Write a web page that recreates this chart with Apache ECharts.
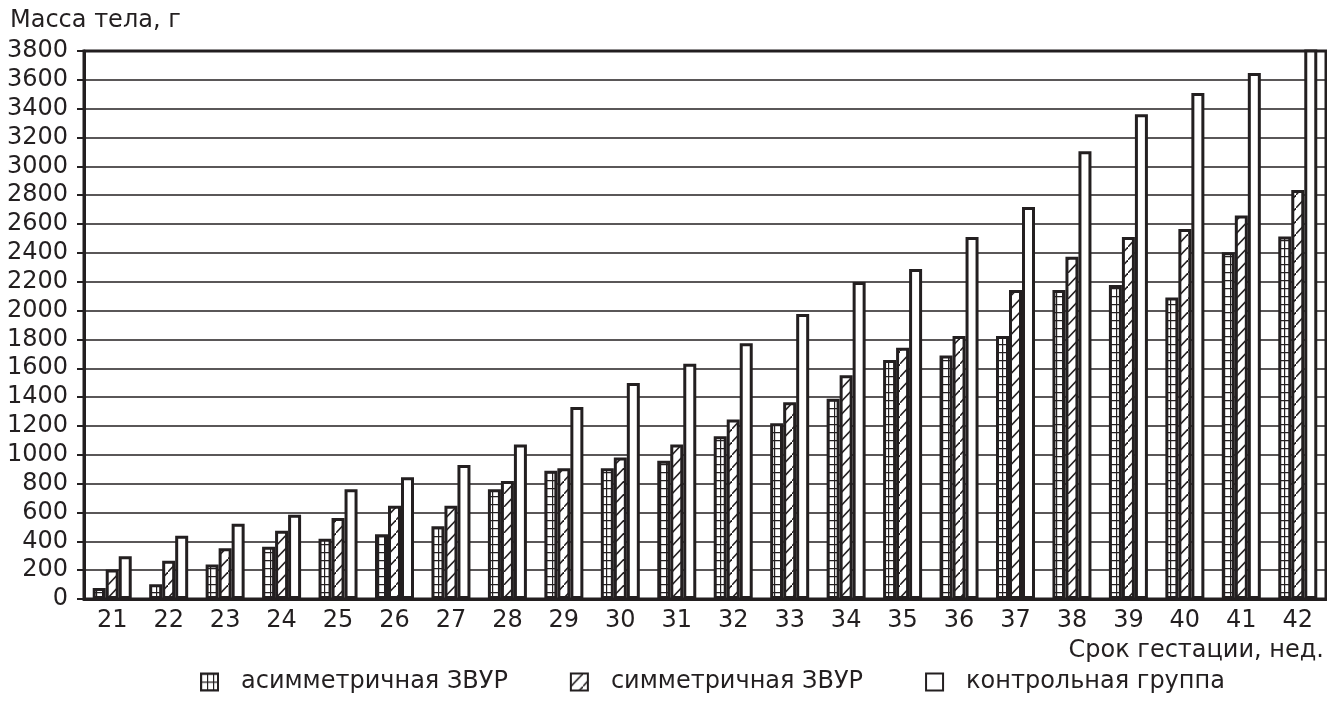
<!DOCTYPE html>
<html>
<head>
<meta charset="utf-8">
<script src="https://cdn.jsdelivr.net/npm/echarts@6/dist/echarts.min.js"></script>
<style>
html, body { margin: 0; padding: 0; background: #fff; }
#chart { width: 1327px; height: 702px; }
</style>
</head>
<body>
<div id="chart"></div>
<script>
/* срок гестации, недели */
var weeks = ['21', '22', '23', '24', '25', '26', '27', '28', '29', '30', '31',
	'32', '33', '34', '35', '36', '37', '38', '39', '40', '41', '42'];
/* масса тела, г */
var asymData = [77, 103, 240, 362, 418, 449, 505, 761, 889, 906, 958,
	1129, 1219, 1389, 1657, 1689, 1823, 2143, 2177, 2091, 2405, 2513];
var symData = [205, 266, 352, 473, 561, 647, 647, 818, 906, 981, 1071,
	1244, 1365, 1552, 1743, 1823, 2143, 2374, 2511, 2565, 2659, 2836];
var ctrlData = [297, 439, 522, 584, 761, 845, 930, 1071, 1332, 1498, 1632,
	1773, 1976, 2198, 2289, 2511, 2718, 3104, 3362, 3509, 3648, 3900];
var seriesNames = ['асимметричная ЗВУР', 'симметричная ЗВУР', 'контрольная группа'];

var ink = '#231f20';
var font = 'DejaVu Sans, sans-serif';

// клетка для асимметричной ЗВУР
function gridTile() {
	var c = document.createElement('canvas');
	c.width = 6;
	c.height = 8;
	var g = c.getContext('2d');
	g.fillStyle = '#fff';
	g.fillRect(0, 0, 6, 8);
	g.strokeStyle = ink;
	g.lineWidth = 1.4;
	g.beginPath();
	g.moveTo(0, 0.5);
	g.lineTo(6, 0.5);
	g.moveTo(0.5, 0);
	g.lineTo(0.5, 8);
	g.stroke();
	return c;
}
// штриховка для симметричной ЗВУР
function hatchTile() {
	var c = document.createElement('canvas');
	c.width = 12;
	c.height = 13;
	var g = c.getContext('2d');
	g.fillStyle = '#fff';
	g.fillRect(0, 0, 12, 13);
	g.strokeStyle = ink;
	g.lineWidth = 1.5;
	g.beginPath();
	g.moveTo(-1, 14);
	g.lineTo(13, -1);
	g.stroke();
	return c;
}

var barBorder = { borderColor: ink, borderWidth: 3 };

var option = {
	animation: false,
	backgroundColor: '#fff',
	textStyle: { fontFamily: font, color: ink },
	grid: {
		left: 84, right: 1, top: 51, bottom: 103,
		show: true, borderColor: ink, borderWidth: 3, backgroundColor: 'transparent'
	},
	legend: {
		left: 200,
		top: 670,
		padding: 0,
		itemGap: 62,
		itemWidth: 17,
		itemHeight: 17,
		icon: 'rect',
		data: seriesNames,
		textStyle: { fontSize: 24, color: ink, fontFamily: font, padding: [0, 0, 0, 18] },
		itemStyle: { borderColor: ink, borderWidth: 2 }
	},
	graphic: [{
		type: 'text', left: 10, top: 9,
		style: { text: 'Масса тела, г', fontSize: 24, fontFamily: font, fill: ink }
	}, {
		type: 'text', right: 3, top: 639,
		style: { text: 'Срок гестации, нед.', fontSize: 24, fontFamily: font, fill: ink }
	}],
	xAxis: {
		type: 'category',
		data: weeks,
		axisLine: { lineStyle: { color: ink, width: 3 } },
		axisTick: { show: false },
		axisLabel: { fontSize: 24, color: ink, fontFamily: font, margin: 10 }
	},
	yAxis: {
		type: 'value',
		min: 0,
		max: 3800,
		interval: 200,
		axisLine: { show: true, lineStyle: { color: ink, width: 3 } },
		axisTick: { show: true, length: 7, lineStyle: { color: ink, width: 2 } },
		axisLabel: {
			fontSize: 24, color: ink, fontFamily: font, margin: 16,
			formatter: function (v) { return String(v); }
		},
		splitLine: { lineStyle: { color: ink, width: 1.5 } }
	},
	series: [{
		name: seriesNames[0], type: 'bar', data: asymData,
		barWidth: 13, barGap: '0%',
		itemStyle: Object.assign({ color: { image: gridTile(), repeat: 'repeat' } }, barBorder)
	}, {
		name: seriesNames[1], type: 'bar', data: symData,
		barWidth: 13, barGap: '0%',
		itemStyle: Object.assign({ color: { image: hatchTile(), repeat: 'repeat' } }, barBorder)
	}, {
		name: seriesNames[2], type: 'bar', data: ctrlData,
		barWidth: 13, barGap: '0%',
		itemStyle: Object.assign({ color: '#fff' }, barBorder)
	}]
};

var myChart = echarts.init(document.getElementById('chart'));
myChart.setOption(option);
</script>
</body>
</html>
